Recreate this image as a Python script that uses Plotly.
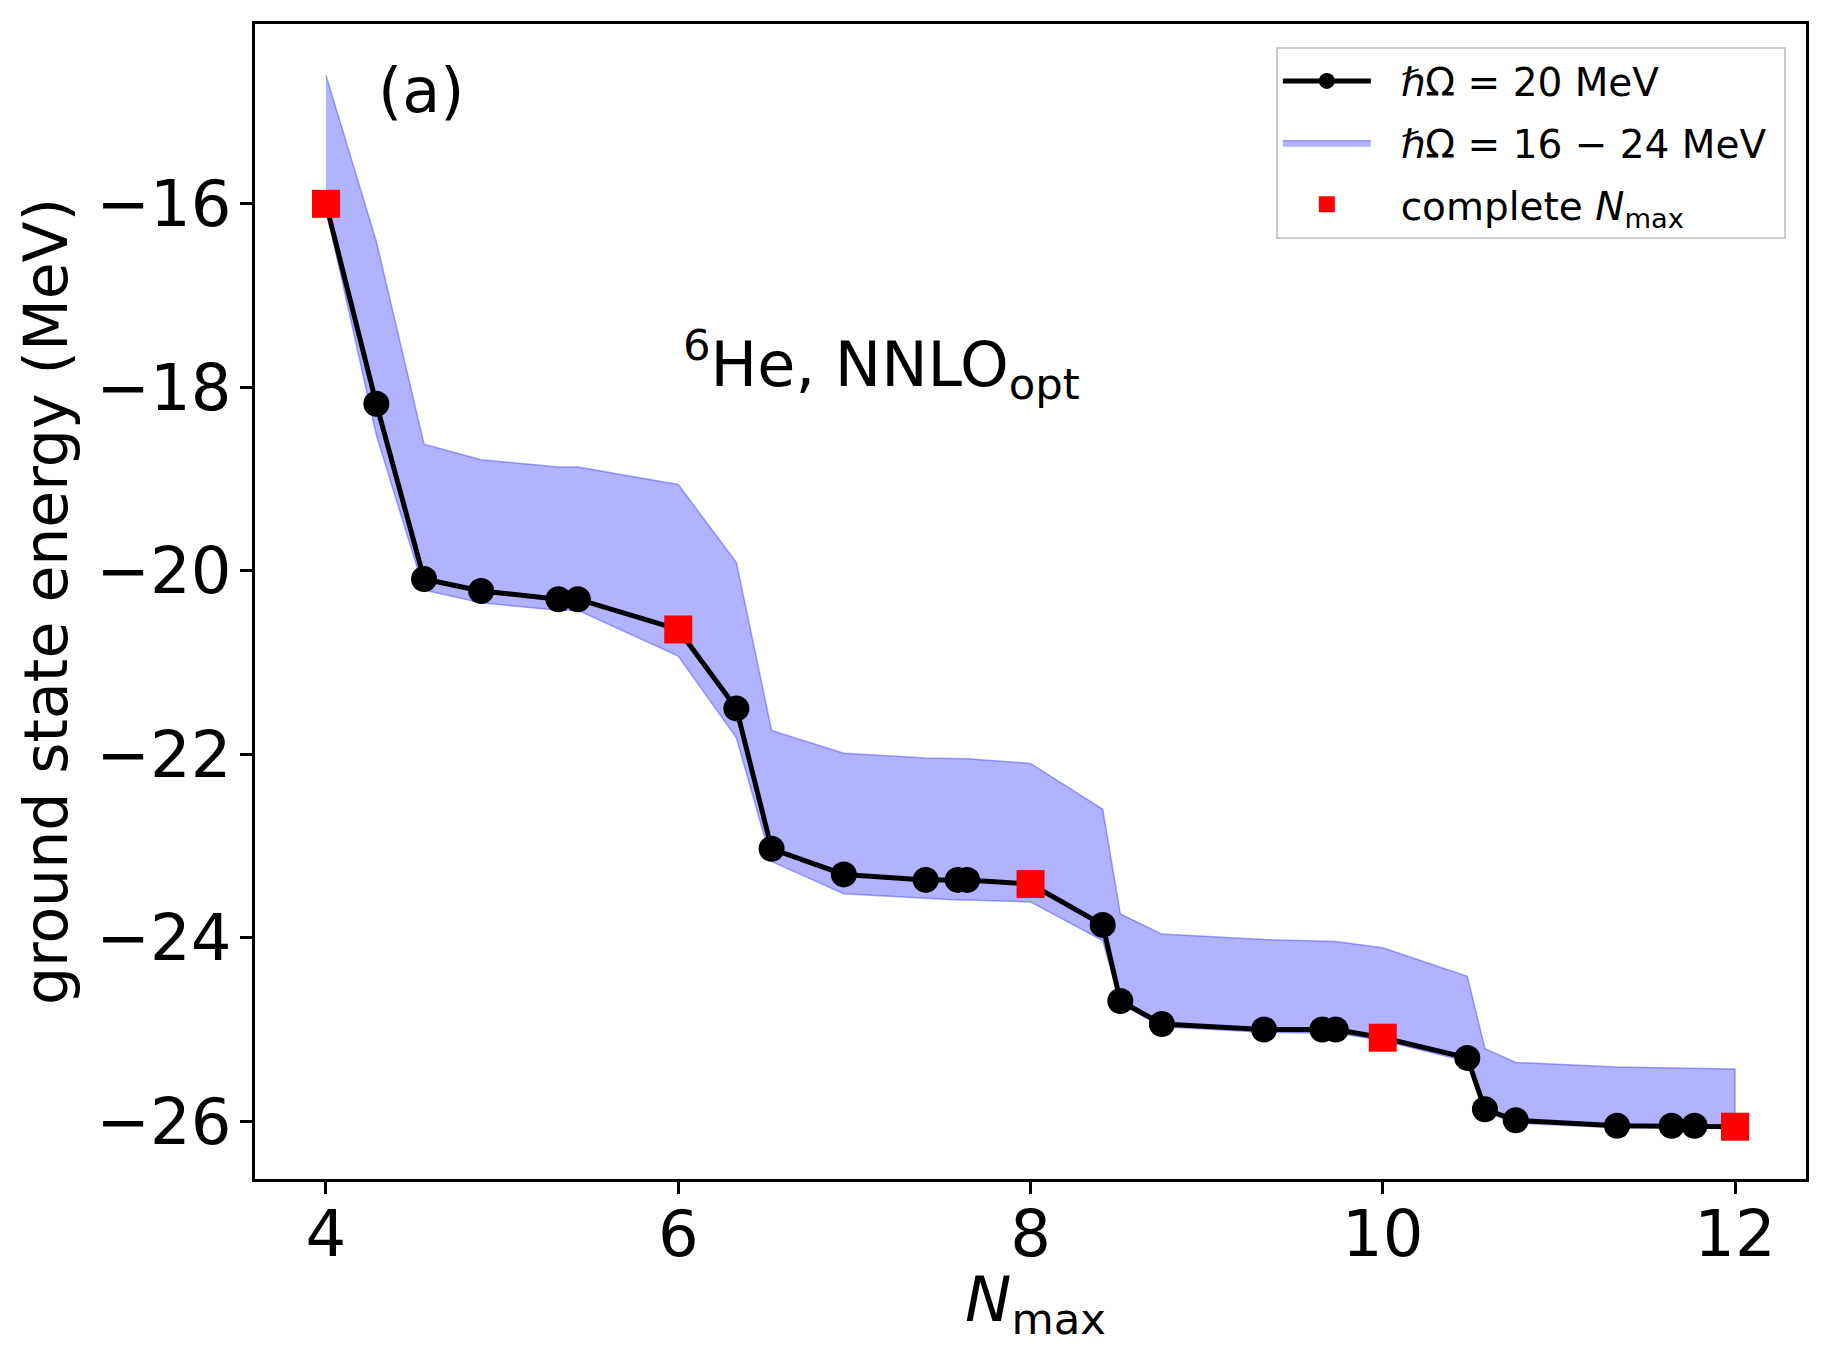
import plotly.graph_objects as go

# ---- data ----
nmax = [4.0, 4.286, 4.557, 4.881, 5.32, 5.43, 6.0, 6.33, 6.53, 6.94, 7.405, 7.587, 7.64,
        8.0, 8.41, 8.51, 8.746, 9.326, 9.657, 9.733, 10.0, 10.48, 10.58, 10.755, 11.33,
        11.64, 11.77, 12.0]
energy_20 = [-16.0, -18.18, -20.09, -20.22, -20.31, -20.31, -20.64, -21.50, -23.03, -23.31,
             -23.37, -23.37, -23.37, -23.415, -23.86, -24.69, -24.94, -25.0, -25.0, -25.0,
             -25.09, -25.31, -25.87, -25.99, -26.05, -26.05, -26.05, -26.06]
band_upper = [-14.6, -16.41, -18.62, -18.79, -18.87, -18.87, -19.06, -19.91, -21.74, -21.99,
              -22.04, -22.05, -22.05, -22.10, -22.60, -23.74, -23.96, -24.02, -24.04, -24.04,
              -24.11, -24.42, -25.21, -25.36, -25.41, -25.42, -25.42, -25.43]
band_lower = [-16.05, -18.52, -20.21, -20.35, -20.43, -20.43, -20.93, -21.82, -23.17, -23.52,
              -23.57, -23.59, -23.59, -23.61, -24.03, -24.72, -24.97, -25.03, -25.04, -25.04,
              -25.12, -25.35, -25.90, -26.02, -26.07, -26.07, -26.07, -26.08]
complete_nmax = [4, 6, 8, 10, 12]
complete_energy = [-16.0, -20.64, -23.415, -25.09, -26.06]

x_tick_vals = [4, 6, 8, 10, 12]
x_tick_text = ["4", "6", "8", "10", "12"]
y_tick_vals = [-26, -24, -22, -20, -18, -16]
y_tick_text = ["\u221226", "\u221224", "\u221222", "\u221220", "\u221218", "\u221216"]

FONT = "DejaVu Sans"
GAP = "\u00a0\u00a0"

fig = go.Figure()

fig.add_trace(go.Scatter(
    x=nmax + nmax[::-1],
    y=band_upper + band_lower[::-1],
    fill="toself",
    fillcolor="rgba(0,0,255,0.3)",
    line=dict(color="rgba(60,60,255,0.45)", width=1.5),
    mode="lines",
    name=GAP + "<i>\u210f</i>\u03a9 = 16 \u2212 24 MeV\u00a0",
    legendrank=2,
    legendgroup="b",
))

fig.add_trace(go.Scatter(
    x=nmax, y=energy_20,
    mode="lines+markers",
    line=dict(color="black", width=5),
    marker=dict(symbol="circle", size=26, color="black", line=dict(width=0)),
    name=GAP + "<i>\u210f</i>\u03a9 = 20 MeV",
    legendrank=1,
    legendgroup="a",
))

fig.add_trace(go.Scatter(
    x=complete_nmax, y=complete_energy,
    mode="markers",
    marker=dict(symbol="square", size=28, color="red", line=dict(width=0)),
    name=GAP + "complete <i>N</i><sub>max</sub>",
    legendrank=3,
    legendgroup="c",
))

axis_common = dict(
    showline=True, linecolor="black", linewidth=2.6, mirror=True,
    ticks="outside", ticklen=12, tickwidth=2.6, tickcolor="black",
    showgrid=False, zeroline=False, automargin=False,
    tickfont=dict(family=FONT, size=64, color="black"),
)

fig.update_xaxes(
    range=[3.597, 12.403],
    tickvals=x_tick_vals, ticktext=x_tick_text,
    ticklabelstandoff=-15,
    **axis_common,
)
fig.update_yaxes(
    range=[-26.63, -14.04],
    tickvals=y_tick_vals, ticktext=y_tick_text,
    ticklabelstandoff=-4,
    title=dict(text="ground state energy (MeV)", font=dict(family=FONT, size=60, color="black"),
               standoff=10),
    **axis_common,
)

# x-axis title
fig.add_annotation(
    text="<i>N</i><sub>max</sub>", xref="paper", yref="paper", x=0.503, y=-0.108,
    xanchor="center", yanchor="middle", showarrow=False,
    font=dict(family=FONT, size=62, color="black"),
)
fig.add_annotation(
    text="(a)", xref="paper", yref="paper", x=0.107, y=0.942,
    xanchor="center", yanchor="middle", showarrow=False,
    font=dict(family=FONT, size=62, color="black"),
)
fig.add_annotation(
    text="<sup>6</sup>He, NNLO<sub>opt</sub>", xref="paper", yref="paper", x=0.404, y=0.705,
    xanchor="center", yanchor="middle", showarrow=False,
    font=dict(family=FONT, size=62, color="black"),
)

fig.update_layout(
    width=1830, height=1363,
    margin=dict(l=255, r=24, t=24, b=184),
    paper_bgcolor="white", plot_bgcolor="white",
    font=dict(family=FONT, color="black"),
    showlegend=True,
    legend=dict(
        x=0.987, y=0.98, xanchor="right", yanchor="top",
        bgcolor="rgba(255,255,255,0.8)", bordercolor="#cccccc", borderwidth=2,
        font=dict(family=FONT, size=39, color="black"),
        itemwidth=88, tracegroupgap=8,
    ),
)

fig.write_html("out.html", config={"displayModeBar": False},
               post_script="document.body.style.margin='0px';")
